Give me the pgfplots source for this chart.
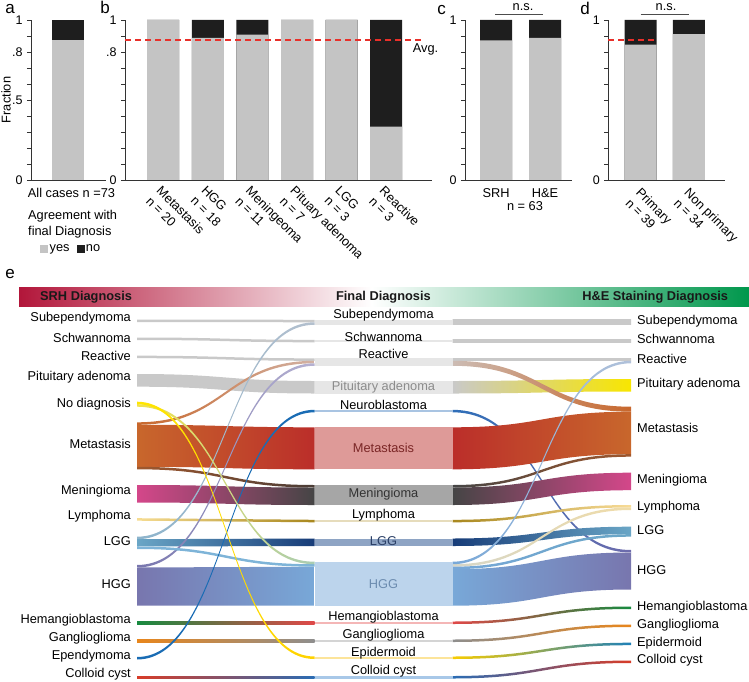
\documentclass[border=0pt]{standalone}
\usepackage{fontspec}
\setmainfont{Liberation Sans}
\usepackage{pgfplots}
\pgfplotsset{compat=1.18}

\definecolor{ygrey}{HTML}{C4C4C4}
\definecolor{nblack}{HTML}{1E1E1E}
\definecolor{avgred}{HTML}{E8302A}
\definecolor{hdrred}{HTML}{B2163A}
\definecolor{hdrgreen}{HTML}{00974C}
\definecolor{fgrey}{HTML}{C9C9C9}
\definecolor{ngrey}{HTML}{E6E6E6}
\definecolor{lggL}{HTML}{6AA6C6}
\definecolor{lggD}{HTML}{173C78}
\definecolor{lggsubL}{HTML}{8DB4CC}
\definecolor{lggsubR}{HTML}{B4C0CE}
\definecolor{metO}{HTML}{C8672C}
\definecolor{metR}{HTML}{BB2E2A}
\definecolor{tanR}{HTML}{D2B2A4}
\definecolor{hggP}{HTML}{7876AE}
\definecolor{hggB}{HTML}{78A8D8}
\definecolor{lav}{HTML}{B6B2D2}
\definecolor{yel}{HTML}{FFE600}
\definecolor{yel2}{HTML}{FFD200}
\definecolor{yelg}{HTML}{F2E24A}
\definecolor{pgreen}{HTML}{A8CCB4}
\definecolor{brownA}{HTML}{A0582E}
\definecolor{brownB}{HTML}{4A3C36}
\definecolor{menP}{HTML}{D4478A}
\definecolor{menG}{HTML}{454545}
\definecolor{lymL}{HTML}{F6DC92}
\definecolor{lymD}{HTML}{A8871E}
\definecolor{lblue}{HTML}{7EB4D8}
\definecolor{hemG}{HTML}{178A40}
\definecolor{hemR}{HTML}{E04848}
\definecolor{ganO}{HTML}{E8861C}
\definecolor{ganG}{HTML}{8E8E8E}
\definecolor{epB}{HTML}{1A6CB4}
\definecolor{colR}{HTML}{D83C28}
\definecolor{colB}{HTML}{2A6CB4}
\definecolor{steel}{HTML}{B2C2DA}
\definecolor{reacT}{HTML}{CCBCB4}
\definecolor{pitY}{HTML}{F8E600}
\definecolor{nbB}{HTML}{2E6EB8}
\definecolor{nbP}{HTML}{6E6CAC}
\definecolor{beigeA}{HTML}{D6D6C8}
\definecolor{beigeB}{HTML}{F0DCA8}
\definecolor{lymR}{HTML}{F8DC98}
\definecolor{epiY}{HTML}{F8CC00}
\definecolor{epiB}{HTML}{1E80B8}
\definecolor{nNeu}{HTML}{A9C4E2}
\definecolor{nMet}{HTML}{DE9A98}
\definecolor{nMen}{HTML}{A6A6A6}
\definecolor{nLym}{HTML}{E6DCBC}
\definecolor{nLGG}{HTML}{8EA4C4}
\definecolor{nHGG}{HTML}{BCD4EC}
\definecolor{nHem}{HTML}{F4B6B6}
\definecolor{nGan}{HTML}{D4D4D4}
\definecolor{nEpi}{HTML}{FCE49A}
\definecolor{nCol}{HTML}{A8C8E8}

% Sankey band: top/bottom at left, top/bottom at right, left colour, right colour
\newcommand{\lflow}[6]{\shade[left color=#5,right color=#6] (axis cs:137,#1) .. controls (axis cs:226,#1) and (axis cs:226,#3) .. (axis cs:314.5,#3) -- (axis cs:314.5,#4) .. controls (axis cs:226,#4) and (axis cs:226,#2) .. (axis cs:137,#2) -- cycle;}
\newcommand{\rflow}[6]{\shade[left color=#5,right color=#6] (axis cs:452.5,#1) .. controls (axis cs:542,#1) and (axis cs:542,#3) .. (axis cs:631,#3) -- (axis cs:631,#4) .. controls (axis cs:542,#4) and (axis cs:542,#2) .. (axis cs:452.5,#2) -- cycle;}
\newcommand{\mnode}[3]{\fill[#3] (axis cs:314.5,#1) rectangle (axis cs:452.5,#2);}

\pgfplotsset{
  fracaxis/.style={scale only axis, anchor=south west, height=160pt, ymin=0, ymax=1,
    axis lines=left, axis line style={-, line width=0.8pt, black!80},
    tick align=outside, major tick length=4pt,
    ytick style={line width=0.8pt, black!80},
    xtick style={draw=none},
    ytick={0,0.1,0.2,0.3,0.4,0.5,0.6,0.7,0.8,0.9,1},
    ybar, bar width=32pt, bar shift=0pt, clip=false,
    yticklabel style={font=\fontsize{12.5}{14}\selectfont},
  },
  lineaxis/.style={scale only axis, anchor=south west, height=160pt, ymin=0, ymax=1, hide axis, clip=false},
}

\begin{document}
\fontsize{12.8}{15}\selectfont
\begin{tikzpicture}[font=\fontsize{12.8}{15}\selectfont]
\useasboundingbox (0,0) rectangle (749pt,682pt);

% ---------- background axis in pixel units: panel e and free text ----------
\begin{axis}[at={(0pt,0pt)}, anchor=south west, scale only axis, width=749pt, height=682pt,
  xmin=0, xmax=749, ymin=0, ymax=682, y dir=reverse, hide axis, clip=false]

% panel letters
\node[font=\fontsize{17}{20}\selectfont, anchor=base] at (axis cs:10,14) {a};
\node[font=\fontsize{17}{20}\selectfont, anchor=base] at (axis cs:105,14) {b};
\node[font=\fontsize{17}{20}\selectfont, anchor=base] at (axis cs:441.7,14.5) {c};
\node[font=\fontsize{17}{20}\selectfont, anchor=base] at (axis cs:585,14.5) {d};
\node[font=\fontsize{17}{20}\selectfont, anchor=base] at (axis cs:10,278) {e};

% texts of the top row
\node[anchor=west, inner sep=0pt] at (axis cs:28,216) {Agreement with};
\node[anchor=west, inner sep=0pt] at (axis cs:28,232) {final Diagnosis};
\node[inner sep=0pt] at (axis cs:425.5,49.5) {Avg.};
\node[inner sep=0pt] at (axis cs:525,206.5) {n = 63};
\addplot[black!70, line width=0.8pt, mark=none] coordinates {(495,14) (543.3,14)};
\addplot[black!70, line width=0.8pt, mark=none] coordinates {(640.7,14) (689,14)};
\node[anchor=base, inner sep=0pt] at (axis cs:523,10.7) {n.s.};
\node[anchor=base, inner sep=0pt] at (axis cs:666,10.7) {n.s.};

% header band
\shade[left color=hdrred, right color=white] (axis cs:19,287.5) rectangle (axis cs:372,306.5);
\shade[left color=white, right color=hdrgreen] (axis cs:371.5,287.5) rectangle (axis cs:749,306.5);
\node[anchor=west, inner sep=0pt, font=\fontsize{12.8}{15}\selectfont\bfseries, text=black!90] at (axis cs:40,297) {SRH Diagnosis};
\node[inner sep=0pt, font=\fontsize{12.8}{15}\selectfont\bfseries, text=black!90] at (axis cs:383.4,297) {Final Diagnosis};
\node[anchor=east, inner sep=0pt, font=\fontsize{12.8}{15}\selectfont\bfseries, text=black!90] at (axis cs:728.3,297) {H\&E Staining Diagnosis};

% ---- left flows (SRH -> Final): thick first
\lflow{374.0}{386.7}{381.0}{393.5}{fgrey}{fgrey}
\lflow{424.8}{466.8}{427.3}{469.3}{metO}{metR}
\lflow{485.0}{502.5}{487.5}{505.0}{menP}{menG}
\lflow{539.2}{546.5}{538.5}{546.0}{lggL}{lggD}
\lflow{567.5}{605.7}{566.7}{605.7}{hggP}{hggB}
\lflow{319.5}{322.0}{319.8}{322.3}{fgrey}{fgrey}
\lflow{337.5}{340.0}{339.8}{342.3}{fgrey}{fgrey}
\lflow{355.7}{358.2}{358.3}{360.8}{fgrey}{fgrey}
\lflow{518.2}{520.7}{519.8}{522.3}{lymL}{lymD}
\lflow{621.5}{624.0}{621.5}{624.0}{hemG}{hemR}
\lflow{639.5}{642.0}{639.5}{642.0}{ganO}{ganG}
\lflow{676.0}{678.5}{676.0}{678.5}{colR}{colB}
\lflow{466.8}{469.3}{485.0}{487.5}{brownA}{brownB}
\lflow{422.3}{424.8}{360.8}{363.3}{metO}{tanR}
\lflow{536.7}{539.2}{322.3}{324.8}{lggsubL}{lggsubR}
\lflow{565.0}{567.5}{363.3}{365.8}{hggP}{lav}
\lflow{546.5}{549.0}{564.2}{566.7}{lblue}{lblue}
\lflow{657.0}{659.5}{409.8}{412.3}{epB}{epB}
\lflow{404.2}{406.7}{561.7}{564.2}{yelg}{pgreen}
\lflow{401.7}{404.2}{656.5}{659.0}{yel}{yel2}

% ---- right flows (Final -> H&E)
\rflow{381.0}{393.5}{379.0}{391.5}{fgrey}{pitY}
\rflow{409.8}{412.3}{550.0}{552.5}{nbB}{nbP}
\rflow{427.3}{469.3}{411.7}{454.2}{metR}{metO}
\rflow{487.5}{505.0}{472.7}{490.2}{menG}{menP}
\rflow{538.5}{546.0}{526.7}{534.2}{lggD}{lggL}
\rflow{569.2}{605.7}{552.5}{589.5}{hggB}{hggP}
\rflow{319.8}{324.8}{319.8}{324.8}{fgrey}{fgrey}
\rflow{339.8}{342.3}{339.8}{342.3}{fgrey}{fgrey}
\rflow{358.3}{360.8}{358.3}{360.8}{fgrey}{fgrey}
\rflow{360.8}{365.8}{406.7}{411.7}{reacT}{metO}
\rflow{485.0}{487.5}{454.2}{456.7}{menG}{brownA}
\rflow{519.8}{522.3}{505.0}{507.5}{lymD}{lymR}
\rflow{564.2}{566.7}{507.5}{510.0}{beigeA}{beigeB}
\rflow{566.7}{569.2}{534.2}{536.7}{hggB}{lggL}
\rflow{561.7}{564.2}{360.8}{363.3}{hggB}{steel}
\rflow{621.5}{624.0}{606.5}{609.0}{hemR}{hemG}
\rflow{639.5}{642.0}{624.5}{627.0}{ganG}{ganO}
\rflow{656.5}{659.0}{642.7}{645.2}{epiY}{epiB}
\rflow{676.0}{678.5}{660.5}{663.0}{colB}{colR}

% ---- middle nodes (Final diagnosis)
\mnode{319.8}{324.8}{ngrey}
\mnode{339.8}{342.3}{ngrey}
\mnode{358.3}{365.8}{ngrey}
\mnode{381.0}{393.5}{ngrey}
\mnode{409.8}{412.3}{nNeu}
\mnode{427.3}{469.3}{nMet}
\mnode{485.0}{505.0}{nMen}
\mnode{519.8}{522.3}{nLym}
\mnode{538.5}{546.0}{nLGG}
\mnode{561.7}{605.7}{nHGG}
\mnode{621.5}{624.0}{nHem}
\mnode{639.5}{642.0}{nGan}
\mnode{656.5}{659.0}{nEpi}
\mnode{676.0}{678.5}{nCol}

% ---- labels, left column
\node[anchor=east, inner sep=0pt] at (axis cs:131,318.3) {Subependymoma};
\node[anchor=east, inner sep=0pt] at (axis cs:131,338.3) {Schwannoma};
\node[anchor=east, inner sep=0pt] at (axis cs:131,356) {Reactive};
\node[anchor=east, inner sep=0pt] at (axis cs:131,377.3) {Pituitary adenoma};
\node[anchor=east, inner sep=0pt] at (axis cs:131,404) {No diagnosis};
\node[anchor=east, inner sep=0pt] at (axis cs:131,444.3) {Metastasis};
\node[anchor=east, inner sep=0pt] at (axis cs:131,490.7) {Meningioma};
\node[anchor=east, inner sep=0pt] at (axis cs:131,516) {Lymphoma};
\node[anchor=east, inner sep=0pt] at (axis cs:131,541) {LGG};
\node[anchor=east, inner sep=0pt] at (axis cs:131,584.3) {HGG};
\node[anchor=east, inner sep=0pt] at (axis cs:131,620) {Hemangioblastoma};
\node[anchor=east, inner sep=0pt] at (axis cs:131,638.3) {Ganglioglioma};
\node[anchor=east, inner sep=0pt] at (axis cs:131,656) {Ependymoma};
\node[anchor=east, inner sep=0pt] at (axis cs:131,674) {Colloid cyst};

% ---- labels, middle column
\node[inner sep=0pt] at (axis cs:383.5,315) {Subependymoma};
\node[inner sep=0pt] at (axis cs:383.5,336.7) {Schwannoma};
\node[inner sep=0pt] at (axis cs:383.5,354) {Reactive};
\node[inner sep=0pt, text=black!45] at (axis cs:383.5,386.7) {Pituitary adenoma};
\node[inner sep=0pt] at (axis cs:383.5,405) {Neuroblastoma};
\node[inner sep=0pt, text={rgb,255:red,122;green,38;blue,38}] at (axis cs:383.5,448.3) {Metastasis};
\node[inner sep=0pt, text=black!80] at (axis cs:383.5,494) {Meningioma};
\node[inner sep=0pt] at (axis cs:383.5,515) {Lymphoma};
\node[inner sep=0pt, text={rgb,255:red,43;green,63;blue,102}] at (axis cs:383.5,541) {LGG};
\node[inner sep=0pt, text={rgb,255:red,108;green,140;blue,176}] at (axis cs:383.5,584) {HGG};
\node[inner sep=0pt] at (axis cs:383.5,616.7) {Hemangioblastoma};
\node[inner sep=0pt] at (axis cs:383.5,635) {Ganglioglioma};
\node[inner sep=0pt] at (axis cs:383.5,652.7) {Epidermoid};
\node[inner sep=0pt] at (axis cs:383.5,671) {Colloid cyst};

% ---- labels, right column
\node[anchor=west, inner sep=0pt] at (axis cs:637,320.7) {Subependymoma};
\node[anchor=west, inner sep=0pt] at (axis cs:637,339.3) {Schwannoma};
\node[anchor=west, inner sep=0pt] at (axis cs:637,359.3) {Reactive};
\node[anchor=west, inner sep=0pt] at (axis cs:637,384.3) {Pituitary adenoma};
\node[anchor=west, inner sep=0pt] at (axis cs:637,428.3) {Metastasis};
\node[anchor=west, inner sep=0pt] at (axis cs:637,480) {Meningioma};
\node[anchor=west, inner sep=0pt] at (axis cs:637,506.7) {Lymphoma};
\node[anchor=west, inner sep=0pt] at (axis cs:637,530) {LGG};
\node[anchor=west, inner sep=0pt] at (axis cs:637,570) {HGG};
\node[anchor=west, inner sep=0pt] at (axis cs:637,606.7) {Hemangioblastoma};
\node[anchor=west, inner sep=0pt] at (axis cs:637,625) {Ganglioglioma};
\node[anchor=west, inner sep=0pt] at (axis cs:637,642.7) {Epidermoid};
\node[anchor=west, inner sep=0pt] at (axis cs:637,660) {Colloid cyst};
\end{axis}

% ---------- panel a ----------
\begin{axis}[fracaxis, at={(31pt,502pt)}, width=75pt, xmin=31, xmax=106,
  yticklabels={0,,,,,.5,,,.8,,1},
  xtick={67.5}, xticklabels={All cases n =73}, xticklabel style={xshift=4pt},
  ylabel={Fraction}, ylabel style={at={(axis description cs:-0.333,0.5)}, anchor=center},
  legend style={draw=none, fill=none, legend columns=2, at={(axis description cs:0.12,-0.431)},
    anchor=west, inner sep=0pt,
    /tikz/every odd column/.append style={column sep=0pt},
    /tikz/every even column/.append style={column sep=5pt}},
  ]
\addplot[fill=nblack, draw=none, forget plot] coordinates {(67.5,1)};
\addplot[fill=ygrey, draw=none, forget plot] coordinates {(67.5,0.877)};
\addlegendimage{legend image code/.code={\fill[ygrey] (0pt,-3.5pt) rectangle (7pt,3.5pt);}}
\addlegendentry{yes}
\addlegendimage{legend image code/.code={\fill[nblack] (0pt,-3.5pt) rectangle (7pt,3.5pt);}}
\addlegendentry{no}
\end{axis}

% ---------- panel b ----------
\begin{axis}[fracaxis, at={(125pt,502pt)}, width=307pt, xmin=125, xmax=432,
  yticklabels={0,,,,,,,,.8,,1},
  xtick={163.2,207.8,252.4,297.0,341.6,386.2},
  xticklabels={{Metastasis\\n = 20},{HGG\\n = 18},{Meningeoma\\n = 11},{Pituary adenoma\\n = 7},{LGG\\n = 3},{Reactive\\n = 3}},
  xticklabel style={rotate=-45, anchor=north west, align=left, xshift=-1pt, inner sep=1pt},
  ]
\addplot[fill=nblack, draw=none] coordinates {(163.2,1) (207.8,1) (252.4,1) (297.0,1) (341.6,1) (386.2,1)};
\addplot[fill=ygrey, draw=none] coordinates {(163.2,1) (207.8,0.889) (252.4,0.909) (297.0,1) (341.6,1) (386.2,0.333)};
\end{axis}
\begin{axis}[lineaxis, at={(125pt,502pt)}, width=307pt, xmin=125, xmax=432]
\addplot[color=avgred, line width=1.8pt, dash pattern=on 6pt off 4pt, mark=none] coordinates {(125,0.877) (423,0.877)};
\end{axis}

% ---------- panel c ----------
\begin{axis}[fracaxis, at={(465pt,502pt)}, width=107pt, xmin=465, xmax=572,
  yticklabels={0,,,,,,,,,,1},
  xtick={496.2,545}, xticklabels={SRH,H\&E},
  ]
\addplot[fill=nblack, draw=none] coordinates {(496.2,1) (545,1)};
\addplot[fill=ygrey, draw=none] coordinates {(496.2,0.873) (545,0.889)};
\end{axis}

% ---------- panel d ----------
\begin{axis}[fracaxis, at={(608.3pt,502pt)}, width=116.7pt, xmin=608.3, xmax=725,
  yticklabels={0,,,,,,,,,,1},
  xtick={640.5,688.8},
  xticklabels={{Primary\\n = 39},{Non primary\\n = 34}},
  xticklabel style={rotate=-45, anchor=north west, align=left, xshift=2pt, inner sep=1pt},
  ]
\addplot[fill=nblack, draw=none] coordinates {(640.5,1) (688.8,1)};
\addplot[fill=ygrey, draw=none] coordinates {(640.5,0.846) (688.8,0.912)};
\end{axis}
\begin{axis}[lineaxis, at={(608.3pt,502pt)}, width=116.7pt, xmin=608.3, xmax=725]
\addplot[color=avgred, line width=1.8pt, dash pattern=on 6pt off 4pt, mark=none] coordinates {(608.3,0.877) (656.5,0.877)};
\end{axis}
\end{tikzpicture}
\end{document}
